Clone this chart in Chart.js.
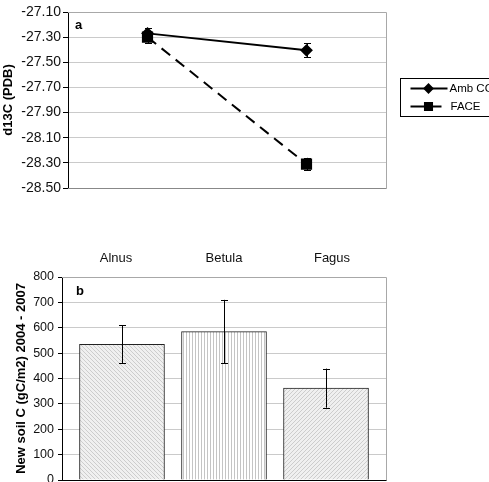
<!DOCTYPE html>
<html>
<head>
<meta charset="utf-8">
<script src="https://cdn.jsdelivr.net/npm/chart.js@4.4.1/dist/chart.umd.min.js"></script>
<style>
html, body { margin:0; padding:0; background:#fff; overflow:hidden; }
#wrap { position:relative; width:489px; height:482px; overflow:hidden; }
#topChart { position:absolute; left:0; top:0; }
#botChart { position:absolute; left:0; top:240px; }
</style>
</head>
<body>
<div id="wrap">
  <canvas id="topChart" width="489" height="200"></canvas>
  <canvas id="botChart" width="489" height="262"></canvas>
</div>
<script>
// panel a: d13C, twee punten per behandeling
const treatments = ['Amb CO2', 'FACE'];
const lineCats = ['1', '2'];
const ambValues = [-27.27, -27.405];
const ambErr = [0.04, 0.055];
const faceValues = [-27.30, -28.31];
const faceErr = [0.05, 0.05];

// panel b: nieuwe bodem C
const species = ['Alnus', 'Betula', 'Fagus'];
const newSoilC = [535, 585, 362];
const newSoilErr = [75, 125, 77];

const FONT = "'Liberation Sans', Arial, sans-serif";
Chart.defaults.font.family = FONT;
Chart.defaults.color = '#111';

// arceringen voor de staven
function makeHatch(kind) {
    const c = document.createElement('canvas');
    const g = c.getContext('2d');
    if (kind === 'vert') {
        c.width = 3; c.height = 3;
        g.fillStyle = '#fff'; g.fillRect(0, 0, 3, 3);
        g.fillStyle = '#c4c4c4'; g.fillRect(0, 0, 1, 3);
    } else {
        c.width = 4; c.height = 4;
        g.fillStyle = '#f0f0f0'; g.fillRect(0, 0, 4, 4);
        g.fillStyle = '#cdcdcd';
        for (let i = 0; i < 4; i++) {
            const x = kind === 'back' ? i : 3 - i;
            g.fillRect(x, i, 1, 1);
        }
    }
    return g.createPattern(c, 'repeat');
}

const framePlugin = {
    id: 'frame',
    beforeDatasetsDraw(chart, args, opts) {
        const a = chart.chartArea, c = chart.ctx;
        const l = Math.round(a.left), r = Math.round(a.right) + 0.5;
        const t = Math.round(a.top) + 0.5, b = Math.round(a.bottom) + 0.5;
        c.save();
        c.lineWidth = 1;
        c.strokeStyle = '#a8a8a8';
        c.beginPath(); c.moveTo(l, t); c.lineTo(r, t); c.lineTo(r, b); c.stroke();
        c.strokeStyle = opts.bottomColor || '#888';
        c.beginPath(); c.moveTo(l, b); c.lineTo(r, b); c.stroke();
        c.restore();
    }
};

const errorBarPlugin = {
    id: 'errorBars',
    afterDatasetsDraw(chart) {
        const c = chart.ctx;
        c.save();
        c.strokeStyle = '#000';
        c.lineWidth = 1;
        chart.data.datasets.forEach((ds, i) => {
            if (!ds.err) return;
            const meta = chart.getDatasetMeta(i);
            const ys = chart.scales[meta.yAxisID];
            meta.data.forEach((el, j) => {
                const d = ds.data[j];
                const v = typeof d === 'object' ? d.y : d;
                const x = Math.round(el.x) + 0.5;
                const hi = ys.getPixelForValue(v + ds.err[j]);
                const lo = ys.getPixelForValue(v - ds.err[j]);
                c.beginPath();
                c.moveTo(x, hi); c.lineTo(x, lo);
                c.moveTo(x - 3.5, Math.round(hi) + 0.5); c.lineTo(x + 3.5, Math.round(hi) + 0.5);
                c.moveTo(x - 3.5, Math.round(lo) + 0.5); c.lineTo(x + 3.5, Math.round(lo) + 0.5);
                c.stroke();
            });
        });
        c.restore();
    }
};

const letterPlugin = {
    id: 'panelLetter',
    afterDraw(chart, args, opts) {
        const a = chart.chartArea, c = chart.ctx;
        c.save();
        c.font = 'bold 13px ' + FONT;
        c.fillStyle = '#000';
        c.textBaseline = 'middle';
        c.fillText(opts.text, a.left + opts.dx, a.top + opts.dy);
        c.restore();
    }
};

// legenda met kader rechts, valt deels buiten beeld
const boxLegendPlugin = {
    id: 'boxLegend',
    afterDraw(chart) {
        const c = chart.ctx;
        const a = chart.chartArea;
        const bx = Math.round(a.right) + 14.5, by = 78.5;
        c.save();
        c.strokeStyle = '#000'; c.lineWidth = 1;
        c.strokeRect(bx, by, 140, 38);
        c.font = '11.5px ' + FONT;
        c.fillStyle = '#000';
        c.textBaseline = 'middle';
        chart.data.datasets.forEach((ds, i) => {
            const y = i === 0 ? 88.5 : 106.5;
            const x0 = bx + 10, x1 = i === 0 ? bx + 47 : bx + 41;
            c.lineWidth = 2;
            c.beginPath(); c.moveTo(x0, y); c.lineTo(x1, y); c.stroke();
            Chart.helpers.drawPoint(c, {pointStyle: ds.pointStyle, radius: i === 0 ? 4 : 5, borderWidth: 1}, bx + 28, y);
            c.fill();
            c.fillText(ds.label, i === 0 ? bx + 49 : bx + 50, y);
        });
        c.restore();
    }
};

const titleFont = {size: 13, weight: 'bold', family: FONT};

new Chart(document.getElementById('topChart'), {
    type: 'line',
    data: {
        labels: lineCats,
        datasets: [
            {
                label: treatments[0], data: ambValues, err: ambErr,
                borderColor: '#000', backgroundColor: '#000', borderWidth: 2,
                pointStyle: 'rectRot', pointRadius: 5, pointHoverRadius: 5
            },
            {
                label: treatments[1], data: faceValues, err: faceErr,
                borderColor: '#000', backgroundColor: '#000', borderWidth: 2, borderDash: [11, 7],
                pointStyle: 'rect', pointRadius: 6.5, pointHoverRadius: 6.5
            }
        ]
    },
    options: {
        responsive: false,
        devicePixelRatio: 1,
        animation: false,
        layout: {padding: {top: 12, right: 103, bottom: 12, left: 0}},
        plugins: {
            legend: {display: false},
            tooltip: {enabled: false},
            frame: {bottomColor: '#888'},
            panelLetter: {text: 'a', dx: 7, dy: 13}
        },
        scales: {
            x: {display: false, offset: true},
            y: {
                min: -28.5, max: -27.1,
                ticks: {stepSize: 0.2, callback: v => v.toFixed(2), font: {size: 14, family: FONT}, color: '#111', padding: 2},
                grid: {color: '#cacaca', tickColor: '#000', tickLength: 5},
                border: {color: '#000'},
                title: {display: true, text: 'd13C (PDB)', font: titleFont, color: '#000', padding: {top: 1, bottom: 0}},
                afterFit: s => { s.width = 68; }
            }
        }
    },
    plugins: [framePlugin, errorBarPlugin, letterPlugin, boxLegendPlugin]
});

new Chart(document.getElementById('botChart'), {
    type: 'bar',
    data: {
        labels: species,
        datasets: [{
            label: 'New soil C',
            data: species.map((s, i) => ({x: i, y: newSoilC[i]})),
            err: newSoilErr,
            xAxisID: 'xb',
            backgroundColor: [makeHatch('back'), makeHatch('vert'), makeHatch('fwd')],
            borderColor: '#222',
            borderWidth: 1,
            barThickness: 85
        }]
    },
    options: {
        responsive: false,
        devicePixelRatio: 1,
        animation: false,
        layout: {padding: {top: 0, right: 103, bottom: 22, left: 0}},
        plugins: {
            legend: {display: false},
            tooltip: {enabled: false},
            frame: {bottomColor: '#000'},
            panelLetter: {text: 'b', dx: 14, dy: 14}
        },
        scales: {
            x: {
                type: 'category', position: 'top', offset: true,
                grid: {display: false}, border: {display: false},
                ticks: {font: {size: 13, family: FONT}, color: '#111', padding: 3},
                afterFit: s => { s.height = 37; }
            },
            xb: {type: 'linear', display: false, offset: false, min: -0.588, max: 2.588},
            y: {
                min: 0, max: 800,
                ticks: {stepSize: 100, font: {size: 12.5, family: FONT}, color: '#111', padding: 4},
                grid: {color: '#cacaca', tickColor: '#000', tickLength: 4},
                border: {color: '#000'},
                title: {display: true, text: 'New soil C (gC/m2) 2004 - 2007', font: titleFont, color: '#000', padding: {top: 14, bottom: 0}},
                afterFit: s => { s.width = 62; }
            }
        }
    },
    plugins: [framePlugin, errorBarPlugin, letterPlugin]
});
</script>
</body>
</html>
